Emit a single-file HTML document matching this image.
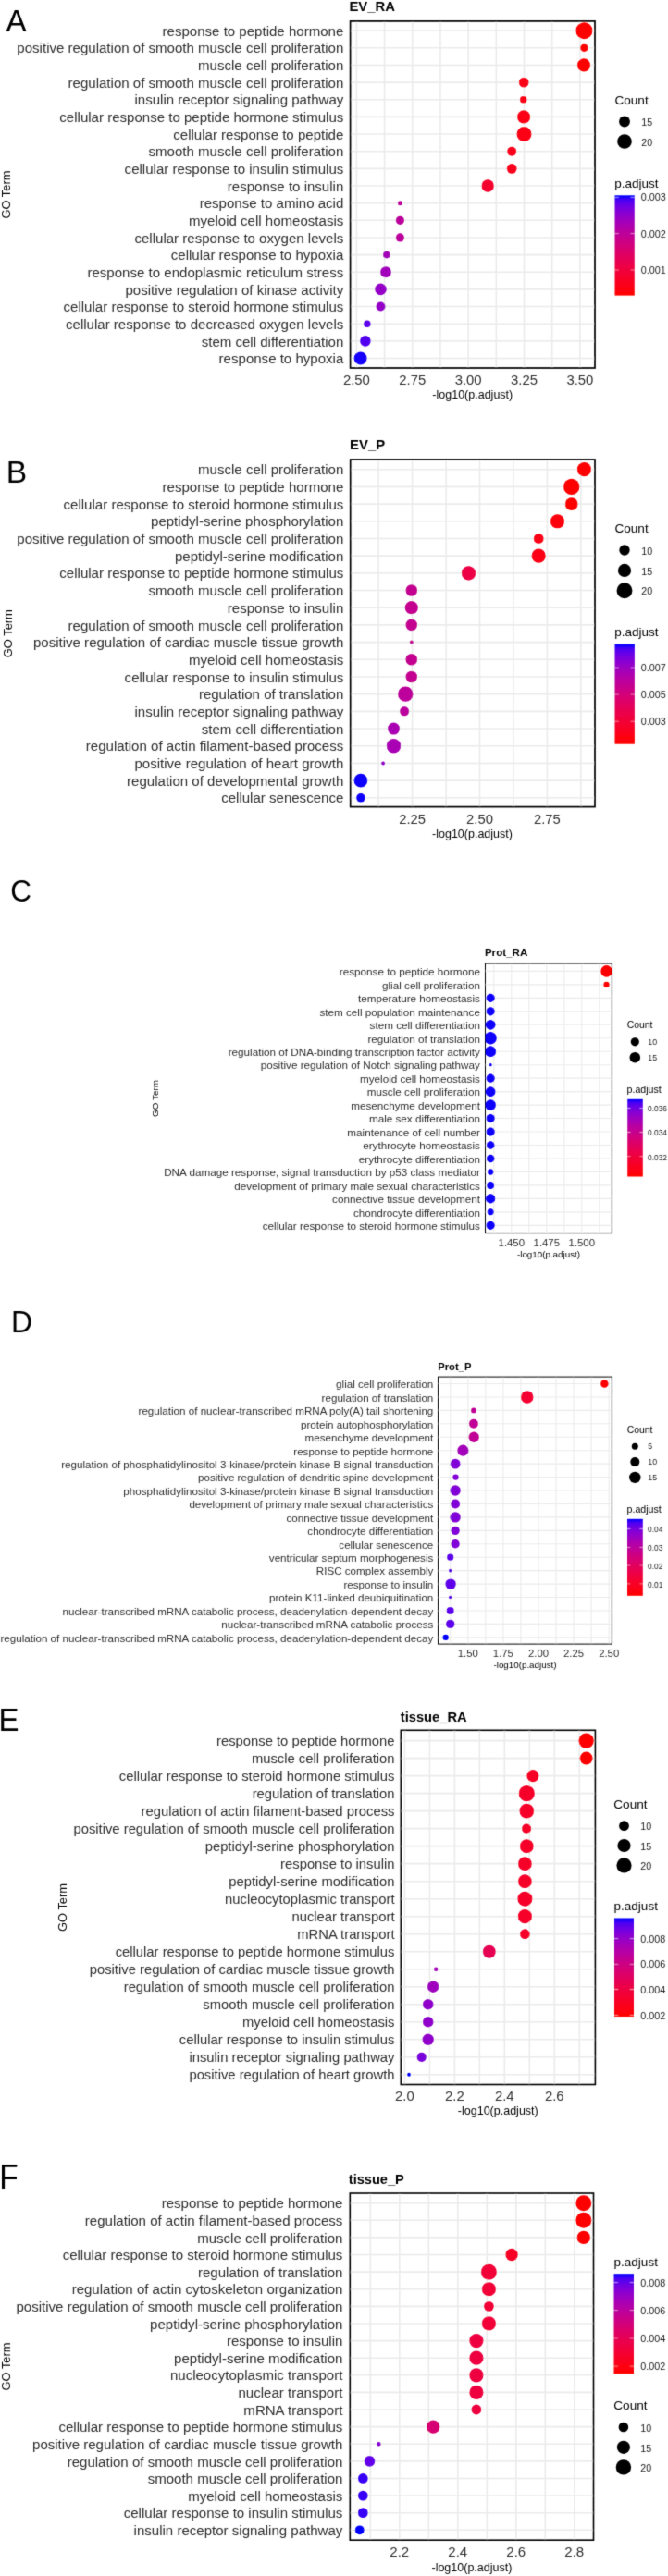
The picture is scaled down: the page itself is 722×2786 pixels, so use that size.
<!DOCTYPE html>
<html><head><meta charset="utf-8"><style>
html,body{margin:0;padding:0;background:#fff;}
svg{display:block;font-family:"Liberation Sans",sans-serif;}
#w{}
</style></head><body>
<div id="w"><svg width="722" height="2786" viewBox="0 0 722 2786">
<defs><filter id="bl" x="0" y="0" width="722" height="2786" filterUnits="userSpaceOnUse"><feConvolveMatrix order="3" kernelMatrix="0.01134 0.08382 0.01134 0.08382 0.61935 0.08382 0.01134 0.08382 0.01134" divisor="1" edgeMode="none"/></filter></defs>
<rect width="722" height="2786" fill="#fff"/>
<g filter="url(#bl)">
<text x="6.60" y="34.40" font-size="33.2" fill="#000">A</text>
<text x="377.40" y="12.00" font-size="14.85" font-weight="bold" fill="#000">EV_RA</text>
<line x1="385.40" y1="22.90" x2="385.40" y2="398.00" stroke="#ebebeb" stroke-width="1.6"/>
<line x1="415.59" y1="22.90" x2="415.59" y2="398.00" stroke="#ebebeb" stroke-width="1.6"/>
<line x1="445.77" y1="22.90" x2="445.77" y2="398.00" stroke="#ebebeb" stroke-width="1.6"/>
<line x1="475.96" y1="22.90" x2="475.96" y2="398.00" stroke="#ebebeb" stroke-width="1.6"/>
<line x1="506.15" y1="22.90" x2="506.15" y2="398.00" stroke="#ebebeb" stroke-width="1.6"/>
<line x1="536.34" y1="22.90" x2="536.34" y2="398.00" stroke="#ebebeb" stroke-width="1.6"/>
<line x1="566.52" y1="22.90" x2="566.52" y2="398.00" stroke="#ebebeb" stroke-width="1.6"/>
<line x1="596.71" y1="22.90" x2="596.71" y2="398.00" stroke="#ebebeb" stroke-width="1.6"/>
<line x1="626.90" y1="22.90" x2="626.90" y2="398.00" stroke="#ebebeb" stroke-width="1.6"/>
<line x1="378.60" y1="33.15" x2="643.00" y2="33.15" stroke="#ebebeb" stroke-width="1.6"/>
<line x1="378.60" y1="51.80" x2="643.00" y2="51.80" stroke="#ebebeb" stroke-width="1.6"/>
<line x1="378.60" y1="70.45" x2="643.00" y2="70.45" stroke="#ebebeb" stroke-width="1.6"/>
<line x1="378.60" y1="89.10" x2="643.00" y2="89.10" stroke="#ebebeb" stroke-width="1.6"/>
<line x1="378.60" y1="107.75" x2="643.00" y2="107.75" stroke="#ebebeb" stroke-width="1.6"/>
<line x1="378.60" y1="126.40" x2="643.00" y2="126.40" stroke="#ebebeb" stroke-width="1.6"/>
<line x1="378.60" y1="145.05" x2="643.00" y2="145.05" stroke="#ebebeb" stroke-width="1.6"/>
<line x1="378.60" y1="163.70" x2="643.00" y2="163.70" stroke="#ebebeb" stroke-width="1.6"/>
<line x1="378.60" y1="182.35" x2="643.00" y2="182.35" stroke="#ebebeb" stroke-width="1.6"/>
<line x1="378.60" y1="201.00" x2="643.00" y2="201.00" stroke="#ebebeb" stroke-width="1.6"/>
<line x1="378.60" y1="219.65" x2="643.00" y2="219.65" stroke="#ebebeb" stroke-width="1.6"/>
<line x1="378.60" y1="238.30" x2="643.00" y2="238.30" stroke="#ebebeb" stroke-width="1.6"/>
<line x1="378.60" y1="256.95" x2="643.00" y2="256.95" stroke="#ebebeb" stroke-width="1.6"/>
<line x1="378.60" y1="275.60" x2="643.00" y2="275.60" stroke="#ebebeb" stroke-width="1.6"/>
<line x1="378.60" y1="294.25" x2="643.00" y2="294.25" stroke="#ebebeb" stroke-width="1.6"/>
<line x1="378.60" y1="312.90" x2="643.00" y2="312.90" stroke="#ebebeb" stroke-width="1.6"/>
<line x1="378.60" y1="331.55" x2="643.00" y2="331.55" stroke="#ebebeb" stroke-width="1.6"/>
<line x1="378.60" y1="350.20" x2="643.00" y2="350.20" stroke="#ebebeb" stroke-width="1.6"/>
<line x1="378.60" y1="368.85" x2="643.00" y2="368.85" stroke="#ebebeb" stroke-width="1.6"/>
<line x1="378.60" y1="387.50" x2="643.00" y2="387.50" stroke="#ebebeb" stroke-width="1.6"/>
<clipPath id="c139891741804864"><rect x="378.60" y="22.90" width="264.40" height="375.10"/></clipPath>
<g clip-path="url(#c139891741804864)">
<circle cx="631.40" cy="33.15" r="9" fill="#ff0000"/>
<circle cx="631.30" cy="51.80" r="4.1" fill="#ff0000"/>
<circle cx="631.00" cy="70.45" r="7.1" fill="#ff0000"/>
<circle cx="566.20" cy="89.10" r="5.4" fill="#fc0017"/>
<circle cx="565.70" cy="107.75" r="3.8" fill="#fb0017"/>
<circle cx="566.10" cy="126.40" r="7.1" fill="#fc0017"/>
<circle cx="566.50" cy="145.05" r="8" fill="#fc0017"/>
<circle cx="553.20" cy="163.70" r="5" fill="#fa001d"/>
<circle cx="553.20" cy="182.35" r="5.4" fill="#fa001d"/>
<circle cx="527.20" cy="201.00" r="6.7" fill="#f5002d"/>
<circle cx="432.40" cy="219.65" r="2.5" fill="#bc009c"/>
<circle cx="432.40" cy="238.30" r="4.6" fill="#bc009c"/>
<circle cx="432.40" cy="256.95" r="4.6" fill="#bc009c"/>
<circle cx="417.80" cy="275.60" r="3.8" fill="#a300ba"/>
<circle cx="417.00" cy="294.25" r="5.9" fill="#a200bb"/>
<circle cx="411.50" cy="312.90" r="6.3" fill="#9500c8"/>
<circle cx="411.50" cy="331.55" r="5" fill="#9500c8"/>
<circle cx="396.80" cy="350.20" r="3.8" fill="#5e00eb"/>
<circle cx="394.90" cy="368.85" r="5.8" fill="#5200f0"/>
<circle cx="389.60" cy="387.50" r="7" fill="#1200fe"/>
</g>
<rect x="378.60" y="22.90" width="264.40" height="375.10" fill="none" stroke="#000" stroke-width="1.7"/>
<text x="371.30" y="38.80" font-size="15.05" text-anchor="end" fill="#2e2e2e">response to peptide hormone</text>
<text x="371.30" y="57.45" font-size="15.05" text-anchor="end" fill="#2e2e2e">positive regulation of smooth muscle cell proliferation</text>
<text x="371.30" y="76.10" font-size="15.05" text-anchor="end" fill="#2e2e2e">muscle cell proliferation</text>
<text x="371.30" y="94.75" font-size="15.05" text-anchor="end" fill="#2e2e2e">regulation of smooth muscle cell proliferation</text>
<text x="371.30" y="113.40" font-size="15.05" text-anchor="end" fill="#2e2e2e">insulin receptor signaling pathway</text>
<text x="371.30" y="132.05" font-size="15.05" text-anchor="end" fill="#2e2e2e">cellular response to peptide hormone stimulus</text>
<text x="371.30" y="150.70" font-size="15.05" text-anchor="end" fill="#2e2e2e">cellular response to peptide</text>
<text x="371.30" y="169.35" font-size="15.05" text-anchor="end" fill="#2e2e2e">smooth muscle cell proliferation</text>
<text x="371.30" y="188.00" font-size="15.05" text-anchor="end" fill="#2e2e2e">cellular response to insulin stimulus</text>
<text x="371.30" y="206.65" font-size="15.05" text-anchor="end" fill="#2e2e2e">response to insulin</text>
<text x="371.30" y="225.30" font-size="15.05" text-anchor="end" fill="#2e2e2e">response to amino acid</text>
<text x="371.30" y="243.95" font-size="15.05" text-anchor="end" fill="#2e2e2e">myeloid cell homeostasis</text>
<text x="371.30" y="262.60" font-size="15.05" text-anchor="end" fill="#2e2e2e">cellular response to oxygen levels</text>
<text x="371.30" y="281.25" font-size="15.05" text-anchor="end" fill="#2e2e2e">cellular response to hypoxia</text>
<text x="371.30" y="299.90" font-size="15.05" text-anchor="end" fill="#2e2e2e">response to endoplasmic reticulum stress</text>
<text x="371.30" y="318.55" font-size="15.05" text-anchor="end" fill="#2e2e2e">positive regulation of kinase activity</text>
<text x="371.30" y="337.20" font-size="15.05" text-anchor="end" fill="#2e2e2e">cellular response to steroid hormone stimulus</text>
<text x="371.30" y="355.85" font-size="15.05" text-anchor="end" fill="#2e2e2e">cellular response to decreased oxygen levels</text>
<text x="371.30" y="374.50" font-size="15.05" text-anchor="end" fill="#2e2e2e">stem cell differentiation</text>
<text x="371.30" y="393.15" font-size="15.05" text-anchor="end" fill="#2e2e2e">response to hypoxia</text>
<text x="385.40" y="416.10" font-size="14.9" text-anchor="middle" fill="#2e2e2e">2.50</text>
<text x="445.77" y="416.10" font-size="14.9" text-anchor="middle" fill="#2e2e2e">2.75</text>
<text x="506.15" y="416.10" font-size="14.9" text-anchor="middle" fill="#2e2e2e">3.00</text>
<text x="566.52" y="416.10" font-size="14.9" text-anchor="middle" fill="#2e2e2e">3.25</text>
<text x="626.90" y="416.10" font-size="14.9" text-anchor="middle" fill="#2e2e2e">3.50</text>
<text x="510.80" y="431.00" font-size="12.5" text-anchor="middle" fill="#000">-log10(p.adjust)</text>
<text x="0" y="0" font-size="12.9" text-anchor="middle" transform="translate(11.10,210.60) rotate(-90)">GO Term</text>
<text x="664.40" y="112.60" font-size="13.6" fill="#000">Count</text>
<circle cx="675.00" cy="131.50" r="5.9" fill="#000"/>
<text x="693.20" y="136.20" font-size="10.7" fill="#1a1a1a">15</text>
<circle cx="675.00" cy="153.00" r="7.8" fill="#000"/>
<text x="693.20" y="157.70" font-size="10.7" fill="#1a1a1a">20</text>
<text x="664.30" y="202.60" font-size="13.5" fill="#000">p.adjust</text>
<linearGradient id="g1" x1="0" y1="0" x2="0" y2="1"><stop offset="0.00" stop-color="#0000ff"/><stop offset="0.05" stop-color="#4c00f2"/><stop offset="0.10" stop-color="#6a00e6"/><stop offset="0.15" stop-color="#7f00d8"/><stop offset="0.20" stop-color="#9100cb"/><stop offset="0.25" stop-color="#9f00be"/><stop offset="0.30" stop-color="#ac00b0"/><stop offset="0.35" stop-color="#b700a2"/><stop offset="0.40" stop-color="#c10095"/><stop offset="0.45" stop-color="#ca0087"/><stop offset="0.50" stop-color="#d2007a"/><stop offset="0.55" stop-color="#da006d"/><stop offset="0.60" stop-color="#e00060"/><stop offset="0.65" stop-color="#e60053"/><stop offset="0.70" stop-color="#ec0047"/><stop offset="0.75" stop-color="#f0003b"/><stop offset="0.80" stop-color="#f50030"/><stop offset="0.85" stop-color="#f80024"/><stop offset="0.90" stop-color="#fb0018"/><stop offset="0.95" stop-color="#fe000a"/><stop offset="1.00" stop-color="#ff0000"/></linearGradient>
<rect x="664.50" y="211.30" width="21.30" height="108.30" fill="url(#g1)"/>
<line x1="664.50" y1="213.40" x2="668.76" y2="213.40" stroke="#fff" stroke-opacity="0.6" stroke-width="0.8"/>
<line x1="681.54" y1="213.40" x2="685.80" y2="213.40" stroke="#fff" stroke-opacity="0.6" stroke-width="0.8"/>
<text x="692.80" y="217.23" font-size="10.8" fill="#222">0.003</text>
<line x1="664.50" y1="252.70" x2="668.76" y2="252.70" stroke="#fff" stroke-opacity="0.6" stroke-width="0.8"/>
<line x1="681.54" y1="252.70" x2="685.80" y2="252.70" stroke="#fff" stroke-opacity="0.6" stroke-width="0.8"/>
<text x="692.80" y="256.53" font-size="10.8" fill="#222">0.002</text>
<line x1="664.50" y1="292.00" x2="668.76" y2="292.00" stroke="#fff" stroke-opacity="0.6" stroke-width="0.8"/>
<line x1="681.54" y1="292.00" x2="685.80" y2="292.00" stroke="#fff" stroke-opacity="0.6" stroke-width="0.8"/>
<text x="692.80" y="295.83" font-size="10.8" fill="#222">0.001</text>
<text x="6.70" y="522.20" font-size="33.6" fill="#000">B</text>
<text x="378.10" y="485.90" font-size="14.9" font-weight="bold" fill="#000">EV_P</text>
<line x1="409.15" y1="497.00" x2="409.15" y2="872.60" stroke="#ebebeb" stroke-width="1.6"/>
<line x1="445.60" y1="497.00" x2="445.60" y2="872.60" stroke="#ebebeb" stroke-width="1.6"/>
<line x1="482.05" y1="497.00" x2="482.05" y2="872.60" stroke="#ebebeb" stroke-width="1.6"/>
<line x1="518.50" y1="497.00" x2="518.50" y2="872.60" stroke="#ebebeb" stroke-width="1.6"/>
<line x1="554.95" y1="497.00" x2="554.95" y2="872.60" stroke="#ebebeb" stroke-width="1.6"/>
<line x1="591.40" y1="497.00" x2="591.40" y2="872.60" stroke="#ebebeb" stroke-width="1.6"/>
<line x1="627.85" y1="497.00" x2="627.85" y2="872.60" stroke="#ebebeb" stroke-width="1.6"/>
<line x1="378.70" y1="507.70" x2="643.00" y2="507.70" stroke="#ebebeb" stroke-width="1.6"/>
<line x1="378.70" y1="526.39" x2="643.00" y2="526.39" stroke="#ebebeb" stroke-width="1.6"/>
<line x1="378.70" y1="545.08" x2="643.00" y2="545.08" stroke="#ebebeb" stroke-width="1.6"/>
<line x1="378.70" y1="563.77" x2="643.00" y2="563.77" stroke="#ebebeb" stroke-width="1.6"/>
<line x1="378.70" y1="582.46" x2="643.00" y2="582.46" stroke="#ebebeb" stroke-width="1.6"/>
<line x1="378.70" y1="601.15" x2="643.00" y2="601.15" stroke="#ebebeb" stroke-width="1.6"/>
<line x1="378.70" y1="619.84" x2="643.00" y2="619.84" stroke="#ebebeb" stroke-width="1.6"/>
<line x1="378.70" y1="638.53" x2="643.00" y2="638.53" stroke="#ebebeb" stroke-width="1.6"/>
<line x1="378.70" y1="657.22" x2="643.00" y2="657.22" stroke="#ebebeb" stroke-width="1.6"/>
<line x1="378.70" y1="675.91" x2="643.00" y2="675.91" stroke="#ebebeb" stroke-width="1.6"/>
<line x1="378.70" y1="694.60" x2="643.00" y2="694.60" stroke="#ebebeb" stroke-width="1.6"/>
<line x1="378.70" y1="713.29" x2="643.00" y2="713.29" stroke="#ebebeb" stroke-width="1.6"/>
<line x1="378.70" y1="731.98" x2="643.00" y2="731.98" stroke="#ebebeb" stroke-width="1.6"/>
<line x1="378.70" y1="750.67" x2="643.00" y2="750.67" stroke="#ebebeb" stroke-width="1.6"/>
<line x1="378.70" y1="769.36" x2="643.00" y2="769.36" stroke="#ebebeb" stroke-width="1.6"/>
<line x1="378.70" y1="788.05" x2="643.00" y2="788.05" stroke="#ebebeb" stroke-width="1.6"/>
<line x1="378.70" y1="806.74" x2="643.00" y2="806.74" stroke="#ebebeb" stroke-width="1.6"/>
<line x1="378.70" y1="825.43" x2="643.00" y2="825.43" stroke="#ebebeb" stroke-width="1.6"/>
<line x1="378.70" y1="844.12" x2="643.00" y2="844.12" stroke="#ebebeb" stroke-width="1.6"/>
<line x1="378.70" y1="862.81" x2="643.00" y2="862.81" stroke="#ebebeb" stroke-width="1.6"/>
<clipPath id="c139891741804608"><rect x="378.70" y="497.00" width="264.30" height="375.60"/></clipPath>
<g clip-path="url(#c139891741804608)">
<circle cx="631.40" cy="507.70" r="7.6" fill="#ff0000"/>
<circle cx="617.70" cy="526.39" r="8.7" fill="#ff0002"/>
<circle cx="617.70" cy="545.08" r="6.9" fill="#ff0002"/>
<circle cx="602.50" cy="563.77" r="7.6" fill="#fe0008"/>
<circle cx="582.20" cy="582.46" r="5.4" fill="#fc0013"/>
<circle cx="582.20" cy="601.15" r="7.6" fill="#fc0013"/>
<circle cx="506.50" cy="619.84" r="7.7" fill="#ed0045"/>
<circle cx="444.80" cy="638.53" r="6.3" fill="#c40090"/>
<circle cx="444.80" cy="657.22" r="7.1" fill="#c40090"/>
<circle cx="444.80" cy="675.91" r="6.3" fill="#c40090"/>
<circle cx="444.80" cy="694.60" r="2" fill="#c40090"/>
<circle cx="444.80" cy="713.29" r="6.3" fill="#c40090"/>
<circle cx="444.80" cy="731.98" r="6.3" fill="#c40090"/>
<circle cx="438.30" cy="750.67" r="8.2" fill="#bd009b"/>
<circle cx="437.10" cy="769.36" r="5" fill="#bb009d"/>
<circle cx="425.50" cy="788.05" r="6.5" fill="#aa00b3"/>
<circle cx="425.50" cy="806.74" r="7.7" fill="#aa00b3"/>
<circle cx="414.10" cy="825.43" r="2" fill="#9300c9"/>
<circle cx="389.90" cy="844.12" r="7.4" fill="#0a00fe"/>
<circle cx="389.90" cy="862.81" r="4.8" fill="#0a00fe"/>
</g>
<rect x="378.70" y="497.00" width="264.30" height="375.60" fill="none" stroke="#000" stroke-width="1.7"/>
<text x="371.30" y="513.35" font-size="15.05" text-anchor="end" fill="#2e2e2e">muscle cell proliferation</text>
<text x="371.30" y="532.04" font-size="15.05" text-anchor="end" fill="#2e2e2e">response to peptide hormone</text>
<text x="371.30" y="550.73" font-size="15.05" text-anchor="end" fill="#2e2e2e">cellular response to steroid hormone stimulus</text>
<text x="371.30" y="569.42" font-size="15.05" text-anchor="end" fill="#2e2e2e">peptidyl-serine phosphorylation</text>
<text x="371.30" y="588.11" font-size="15.05" text-anchor="end" fill="#2e2e2e">positive regulation of smooth muscle cell proliferation</text>
<text x="371.30" y="606.80" font-size="15.05" text-anchor="end" fill="#2e2e2e">peptidyl-serine modification</text>
<text x="371.30" y="625.49" font-size="15.05" text-anchor="end" fill="#2e2e2e">cellular response to peptide hormone stimulus</text>
<text x="371.30" y="644.18" font-size="15.05" text-anchor="end" fill="#2e2e2e">smooth muscle cell proliferation</text>
<text x="371.30" y="662.87" font-size="15.05" text-anchor="end" fill="#2e2e2e">response to insulin</text>
<text x="371.30" y="681.56" font-size="15.05" text-anchor="end" fill="#2e2e2e">regulation of smooth muscle cell proliferation</text>
<text x="371.30" y="700.25" font-size="15.05" text-anchor="end" fill="#2e2e2e">positive regulation of cardiac muscle tissue growth</text>
<text x="371.30" y="718.94" font-size="15.05" text-anchor="end" fill="#2e2e2e">myeloid cell homeostasis</text>
<text x="371.30" y="737.63" font-size="15.05" text-anchor="end" fill="#2e2e2e">cellular response to insulin stimulus</text>
<text x="371.30" y="756.32" font-size="15.05" text-anchor="end" fill="#2e2e2e">regulation of translation</text>
<text x="371.30" y="775.01" font-size="15.05" text-anchor="end" fill="#2e2e2e">insulin receptor signaling pathway</text>
<text x="371.30" y="793.70" font-size="15.05" text-anchor="end" fill="#2e2e2e">stem cell differentiation</text>
<text x="371.30" y="812.39" font-size="15.05" text-anchor="end" fill="#2e2e2e">regulation of actin filament-based process</text>
<text x="371.30" y="831.08" font-size="15.05" text-anchor="end" fill="#2e2e2e">positive regulation of heart growth</text>
<text x="371.30" y="849.77" font-size="15.05" text-anchor="end" fill="#2e2e2e">regulation of developmental growth</text>
<text x="371.30" y="868.46" font-size="15.05" text-anchor="end" fill="#2e2e2e">cellular senescence</text>
<text x="445.60" y="891.00" font-size="14.8" text-anchor="middle" fill="#2e2e2e">2.25</text>
<text x="518.50" y="891.00" font-size="14.8" text-anchor="middle" fill="#2e2e2e">2.50</text>
<text x="591.40" y="891.00" font-size="14.8" text-anchor="middle" fill="#2e2e2e">2.75</text>
<text x="510.50" y="906.00" font-size="12.5" text-anchor="middle" fill="#000">-log10(p.adjust)</text>
<text x="0" y="0" font-size="12.9" text-anchor="middle" transform="translate(12.60,685.20) rotate(-90)">GO Term</text>
<text x="664.40" y="576.40" font-size="13.6" fill="#000">Count</text>
<circle cx="675.00" cy="595.00" r="5.66" fill="#000"/>
<text x="693.20" y="599.70" font-size="10.7" fill="#1a1a1a">10</text>
<circle cx="675.00" cy="616.90" r="7.06" fill="#000"/>
<text x="693.20" y="621.60" font-size="10.7" fill="#1a1a1a">15</text>
<circle cx="675.00" cy="638.70" r="8.46" fill="#000"/>
<text x="693.20" y="643.40" font-size="10.7" fill="#1a1a1a">20</text>
<text x="664.30" y="688.20" font-size="13.5" fill="#000">p.adjust</text>
<linearGradient id="g2" x1="0" y1="0" x2="0" y2="1"><stop offset="0.00" stop-color="#0000ff"/><stop offset="0.05" stop-color="#4c00f2"/><stop offset="0.10" stop-color="#6a00e6"/><stop offset="0.15" stop-color="#7f00d8"/><stop offset="0.20" stop-color="#9100cb"/><stop offset="0.25" stop-color="#9f00be"/><stop offset="0.30" stop-color="#ac00b0"/><stop offset="0.35" stop-color="#b700a2"/><stop offset="0.40" stop-color="#c10095"/><stop offset="0.45" stop-color="#ca0087"/><stop offset="0.50" stop-color="#d2007a"/><stop offset="0.55" stop-color="#da006d"/><stop offset="0.60" stop-color="#e00060"/><stop offset="0.65" stop-color="#e60053"/><stop offset="0.70" stop-color="#ec0047"/><stop offset="0.75" stop-color="#f0003b"/><stop offset="0.80" stop-color="#f50030"/><stop offset="0.85" stop-color="#f80024"/><stop offset="0.90" stop-color="#fb0018"/><stop offset="0.95" stop-color="#fe000a"/><stop offset="1.00" stop-color="#ff0000"/></linearGradient>
<rect x="664.50" y="696.60" width="21.40" height="108.10" fill="url(#g2)"/>
<line x1="664.50" y1="722.00" x2="668.78" y2="722.00" stroke="#fff" stroke-opacity="0.6" stroke-width="0.8"/>
<line x1="681.62" y1="722.00" x2="685.90" y2="722.00" stroke="#fff" stroke-opacity="0.6" stroke-width="0.8"/>
<text x="692.80" y="725.83" font-size="10.8" fill="#222">0.007</text>
<line x1="664.50" y1="751.00" x2="668.78" y2="751.00" stroke="#fff" stroke-opacity="0.6" stroke-width="0.8"/>
<line x1="681.62" y1="751.00" x2="685.90" y2="751.00" stroke="#fff" stroke-opacity="0.6" stroke-width="0.8"/>
<text x="692.80" y="754.83" font-size="10.8" fill="#222">0.005</text>
<line x1="664.50" y1="780.20" x2="668.78" y2="780.20" stroke="#fff" stroke-opacity="0.6" stroke-width="0.8"/>
<line x1="681.62" y1="780.20" x2="685.90" y2="780.20" stroke="#fff" stroke-opacity="0.6" stroke-width="0.8"/>
<text x="692.80" y="784.03" font-size="10.8" fill="#222">0.003</text>
<text x="0" y="0" font-size="33.2" fill="#000" transform="translate(11.20,974.60) scale(0.95,1.015)">C</text>
<text x="523.90" y="1034.30" font-size="11.6" font-weight="bold" fill="#000">Prot_RA</text>
<line x1="533.80" y1="1042.00" x2="533.80" y2="1333.60" stroke="#ebebeb" stroke-width="1.1"/>
<line x1="552.80" y1="1042.00" x2="552.80" y2="1333.60" stroke="#ebebeb" stroke-width="1.1"/>
<line x1="571.80" y1="1042.00" x2="571.80" y2="1333.60" stroke="#ebebeb" stroke-width="1.1"/>
<line x1="590.80" y1="1042.00" x2="590.80" y2="1333.60" stroke="#ebebeb" stroke-width="1.1"/>
<line x1="609.80" y1="1042.00" x2="609.80" y2="1333.60" stroke="#ebebeb" stroke-width="1.1"/>
<line x1="628.80" y1="1042.00" x2="628.80" y2="1333.60" stroke="#ebebeb" stroke-width="1.1"/>
<line x1="647.80" y1="1042.00" x2="647.80" y2="1333.60" stroke="#ebebeb" stroke-width="1.1"/>
<line x1="524.50" y1="1050.40" x2="661.40" y2="1050.40" stroke="#ebebeb" stroke-width="1.1"/>
<line x1="524.50" y1="1064.87" x2="661.40" y2="1064.87" stroke="#ebebeb" stroke-width="1.1"/>
<line x1="524.50" y1="1079.34" x2="661.40" y2="1079.34" stroke="#ebebeb" stroke-width="1.1"/>
<line x1="524.50" y1="1093.81" x2="661.40" y2="1093.81" stroke="#ebebeb" stroke-width="1.1"/>
<line x1="524.50" y1="1108.28" x2="661.40" y2="1108.28" stroke="#ebebeb" stroke-width="1.1"/>
<line x1="524.50" y1="1122.75" x2="661.40" y2="1122.75" stroke="#ebebeb" stroke-width="1.1"/>
<line x1="524.50" y1="1137.22" x2="661.40" y2="1137.22" stroke="#ebebeb" stroke-width="1.1"/>
<line x1="524.50" y1="1151.69" x2="661.40" y2="1151.69" stroke="#ebebeb" stroke-width="1.1"/>
<line x1="524.50" y1="1166.16" x2="661.40" y2="1166.16" stroke="#ebebeb" stroke-width="1.1"/>
<line x1="524.50" y1="1180.63" x2="661.40" y2="1180.63" stroke="#ebebeb" stroke-width="1.1"/>
<line x1="524.50" y1="1195.10" x2="661.40" y2="1195.10" stroke="#ebebeb" stroke-width="1.1"/>
<line x1="524.50" y1="1209.57" x2="661.40" y2="1209.57" stroke="#ebebeb" stroke-width="1.1"/>
<line x1="524.50" y1="1224.04" x2="661.40" y2="1224.04" stroke="#ebebeb" stroke-width="1.1"/>
<line x1="524.50" y1="1238.51" x2="661.40" y2="1238.51" stroke="#ebebeb" stroke-width="1.1"/>
<line x1="524.50" y1="1252.98" x2="661.40" y2="1252.98" stroke="#ebebeb" stroke-width="1.1"/>
<line x1="524.50" y1="1267.45" x2="661.40" y2="1267.45" stroke="#ebebeb" stroke-width="1.1"/>
<line x1="524.50" y1="1281.92" x2="661.40" y2="1281.92" stroke="#ebebeb" stroke-width="1.1"/>
<line x1="524.50" y1="1296.39" x2="661.40" y2="1296.39" stroke="#ebebeb" stroke-width="1.1"/>
<line x1="524.50" y1="1310.86" x2="661.40" y2="1310.86" stroke="#ebebeb" stroke-width="1.1"/>
<line x1="524.50" y1="1325.33" x2="661.40" y2="1325.33" stroke="#ebebeb" stroke-width="1.1"/>
<clipPath id="c139891741804352"><rect x="524.50" y="1042.00" width="136.90" height="291.60"/></clipPath>
<g clip-path="url(#c139891741804352)">
<circle cx="655.50" cy="1050.40" r="6.3" fill="#ff0000"/>
<circle cx="655.50" cy="1064.87" r="3.2" fill="#ff0000"/>
<circle cx="530.20" cy="1079.34" r="4.6" fill="#1000fe"/>
<circle cx="530.20" cy="1093.81" r="4.6" fill="#1000fe"/>
<circle cx="530.20" cy="1108.28" r="5.4" fill="#1000fe"/>
<circle cx="530.20" cy="1122.75" r="6.7" fill="#1000fe"/>
<circle cx="530.20" cy="1137.22" r="5.9" fill="#1000fe"/>
<circle cx="530.20" cy="1151.69" r="1.6" fill="#1000fe"/>
<circle cx="530.20" cy="1166.16" r="4.6" fill="#1000fe"/>
<circle cx="530.20" cy="1180.63" r="5.3" fill="#1000fe"/>
<circle cx="530.20" cy="1195.10" r="5.8" fill="#1000fe"/>
<circle cx="530.20" cy="1209.57" r="4.6" fill="#1000fe"/>
<circle cx="530.20" cy="1224.04" r="4.6" fill="#1000fe"/>
<circle cx="530.20" cy="1238.51" r="4.3" fill="#1000fe"/>
<circle cx="530.20" cy="1252.98" r="4.3" fill="#1000fe"/>
<circle cx="530.20" cy="1267.45" r="3.2" fill="#1000fe"/>
<circle cx="530.20" cy="1281.92" r="4.0" fill="#1000fe"/>
<circle cx="530.20" cy="1296.39" r="5.1" fill="#1000fe"/>
<circle cx="530.20" cy="1310.86" r="3.5" fill="#1000fe"/>
<circle cx="530.20" cy="1325.33" r="4.6" fill="#1000fe"/>
</g>
<rect x="524.50" y="1042.00" width="136.90" height="291.60" fill="none" stroke="#000" stroke-width="1.0"/>
<text x="518.90" y="1055.20" font-size="11.7" text-anchor="end" fill="#2e2e2e">response to peptide hormone</text>
<text x="518.90" y="1069.67" font-size="11.7" text-anchor="end" fill="#2e2e2e">glial cell proliferation</text>
<text x="518.90" y="1084.14" font-size="11.7" text-anchor="end" fill="#2e2e2e">temperature homeostasis</text>
<text x="518.90" y="1098.61" font-size="11.7" text-anchor="end" fill="#2e2e2e">stem cell population maintenance</text>
<text x="518.90" y="1113.08" font-size="11.7" text-anchor="end" fill="#2e2e2e">stem cell differentiation</text>
<text x="518.90" y="1127.55" font-size="11.7" text-anchor="end" fill="#2e2e2e">regulation of translation</text>
<text x="518.90" y="1142.02" font-size="11.7" text-anchor="end" fill="#2e2e2e">regulation of DNA-binding transcription factor activity</text>
<text x="518.90" y="1156.49" font-size="11.7" text-anchor="end" fill="#2e2e2e">positive regulation of Notch signaling pathway</text>
<text x="518.90" y="1170.96" font-size="11.7" text-anchor="end" fill="#2e2e2e">myeloid cell homeostasis</text>
<text x="518.90" y="1185.43" font-size="11.7" text-anchor="end" fill="#2e2e2e">muscle cell proliferation</text>
<text x="518.90" y="1199.90" font-size="11.7" text-anchor="end" fill="#2e2e2e">mesenchyme development</text>
<text x="518.90" y="1214.37" font-size="11.7" text-anchor="end" fill="#2e2e2e">male sex differentiation</text>
<text x="518.90" y="1228.84" font-size="11.7" text-anchor="end" fill="#2e2e2e">maintenance of cell number</text>
<text x="518.90" y="1243.31" font-size="11.7" text-anchor="end" fill="#2e2e2e">erythrocyte homeostasis</text>
<text x="518.90" y="1257.78" font-size="11.7" text-anchor="end" fill="#2e2e2e">erythrocyte differentiation</text>
<text x="518.90" y="1272.25" font-size="11.7" text-anchor="end" fill="#2e2e2e">DNA damage response, signal transduction by p53 class mediator</text>
<text x="518.90" y="1286.72" font-size="11.7" text-anchor="end" fill="#2e2e2e">development of primary male sexual characteristics</text>
<text x="518.90" y="1301.19" font-size="11.7" text-anchor="end" fill="#2e2e2e">connective tissue development</text>
<text x="518.90" y="1315.66" font-size="11.7" text-anchor="end" fill="#2e2e2e">chondrocyte differentiation</text>
<text x="518.90" y="1330.13" font-size="11.7" text-anchor="end" fill="#2e2e2e">cellular response to steroid hormone stimulus</text>
<text x="552.80" y="1348.00" font-size="11.35" text-anchor="middle" fill="#2e2e2e">1.450</text>
<text x="590.80" y="1348.00" font-size="11.35" text-anchor="middle" fill="#2e2e2e">1.475</text>
<text x="628.80" y="1348.00" font-size="11.35" text-anchor="middle" fill="#2e2e2e">1.500</text>
<text x="593.00" y="1359.60" font-size="9.8" text-anchor="middle" fill="#000">-log10(p.adjust)</text>
<text x="0" y="0" font-size="9.9" text-anchor="middle" transform="translate(171.30,1188.00) rotate(-90)">GO Term</text>
<text x="677.70" y="1112.00" font-size="10.4" fill="#000">Count</text>
<circle cx="686.30" cy="1126.80" r="4.6" fill="#000"/>
<text x="700.30" y="1129.92" font-size="8.8" fill="#1a1a1a">10</text>
<circle cx="686.30" cy="1143.70" r="5.8" fill="#000"/>
<text x="700.30" y="1146.82" font-size="8.8" fill="#1a1a1a">15</text>
<text x="677.50" y="1182.00" font-size="10.66" fill="#000">p.adjust</text>
<linearGradient id="g3" x1="0" y1="0" x2="0" y2="1"><stop offset="0.00" stop-color="#0000ff"/><stop offset="0.05" stop-color="#4c00f2"/><stop offset="0.10" stop-color="#6a00e6"/><stop offset="0.15" stop-color="#7f00d8"/><stop offset="0.20" stop-color="#9100cb"/><stop offset="0.25" stop-color="#9f00be"/><stop offset="0.30" stop-color="#ac00b0"/><stop offset="0.35" stop-color="#b700a2"/><stop offset="0.40" stop-color="#c10095"/><stop offset="0.45" stop-color="#ca0087"/><stop offset="0.50" stop-color="#d2007a"/><stop offset="0.55" stop-color="#da006d"/><stop offset="0.60" stop-color="#e00060"/><stop offset="0.65" stop-color="#e60053"/><stop offset="0.70" stop-color="#ec0047"/><stop offset="0.75" stop-color="#f0003b"/><stop offset="0.80" stop-color="#f50030"/><stop offset="0.85" stop-color="#f80024"/><stop offset="0.90" stop-color="#fb0018"/><stop offset="0.95" stop-color="#fe000a"/><stop offset="1.00" stop-color="#ff0000"/></linearGradient>
<rect x="678.20" y="1188.80" width="16.60" height="83.70" fill="url(#g3)"/>
<line x1="678.20" y1="1198.50" x2="681.52" y2="1198.50" stroke="#fff" stroke-opacity="0.6" stroke-width="0.8"/>
<line x1="691.48" y1="1198.50" x2="694.80" y2="1198.50" stroke="#fff" stroke-opacity="0.6" stroke-width="0.8"/>
<text x="700.00" y="1202.38" font-size="8.4" fill="#222">0.036</text>
<line x1="678.20" y1="1224.50" x2="681.52" y2="1224.50" stroke="#fff" stroke-opacity="0.6" stroke-width="0.8"/>
<line x1="691.48" y1="1224.50" x2="694.80" y2="1224.50" stroke="#fff" stroke-opacity="0.6" stroke-width="0.8"/>
<text x="700.00" y="1228.38" font-size="8.4" fill="#222">0.034</text>
<line x1="678.20" y1="1250.70" x2="681.52" y2="1250.70" stroke="#fff" stroke-opacity="0.6" stroke-width="0.8"/>
<line x1="691.48" y1="1250.70" x2="694.80" y2="1250.70" stroke="#fff" stroke-opacity="0.6" stroke-width="0.8"/>
<text x="700.00" y="1254.58" font-size="8.4" fill="#222">0.032</text>
<text x="0" y="0" font-size="33.2" fill="#000" transform="translate(11.90,1441.00) scale(0.96,1.0)">D</text>
<text x="473.30" y="1481.50" font-size="11.2" font-weight="bold" fill="#000">Prot_P</text>
<line x1="486.75" y1="1489.10" x2="486.75" y2="1778.10" stroke="#ebebeb" stroke-width="1.1"/>
<line x1="505.80" y1="1489.10" x2="505.80" y2="1778.10" stroke="#ebebeb" stroke-width="1.1"/>
<line x1="524.85" y1="1489.10" x2="524.85" y2="1778.10" stroke="#ebebeb" stroke-width="1.1"/>
<line x1="543.90" y1="1489.10" x2="543.90" y2="1778.10" stroke="#ebebeb" stroke-width="1.1"/>
<line x1="562.95" y1="1489.10" x2="562.95" y2="1778.10" stroke="#ebebeb" stroke-width="1.1"/>
<line x1="582.00" y1="1489.10" x2="582.00" y2="1778.10" stroke="#ebebeb" stroke-width="1.1"/>
<line x1="601.05" y1="1489.10" x2="601.05" y2="1778.10" stroke="#ebebeb" stroke-width="1.1"/>
<line x1="620.10" y1="1489.10" x2="620.10" y2="1778.10" stroke="#ebebeb" stroke-width="1.1"/>
<line x1="639.15" y1="1489.10" x2="639.15" y2="1778.10" stroke="#ebebeb" stroke-width="1.1"/>
<line x1="658.20" y1="1489.10" x2="658.20" y2="1778.10" stroke="#ebebeb" stroke-width="1.1"/>
<line x1="473.50" y1="1496.50" x2="661.40" y2="1496.50" stroke="#ebebeb" stroke-width="1.1"/>
<line x1="473.50" y1="1510.94" x2="661.40" y2="1510.94" stroke="#ebebeb" stroke-width="1.1"/>
<line x1="473.50" y1="1525.38" x2="661.40" y2="1525.38" stroke="#ebebeb" stroke-width="1.1"/>
<line x1="473.50" y1="1539.82" x2="661.40" y2="1539.82" stroke="#ebebeb" stroke-width="1.1"/>
<line x1="473.50" y1="1554.26" x2="661.40" y2="1554.26" stroke="#ebebeb" stroke-width="1.1"/>
<line x1="473.50" y1="1568.70" x2="661.40" y2="1568.70" stroke="#ebebeb" stroke-width="1.1"/>
<line x1="473.50" y1="1583.14" x2="661.40" y2="1583.14" stroke="#ebebeb" stroke-width="1.1"/>
<line x1="473.50" y1="1597.58" x2="661.40" y2="1597.58" stroke="#ebebeb" stroke-width="1.1"/>
<line x1="473.50" y1="1612.02" x2="661.40" y2="1612.02" stroke="#ebebeb" stroke-width="1.1"/>
<line x1="473.50" y1="1626.46" x2="661.40" y2="1626.46" stroke="#ebebeb" stroke-width="1.1"/>
<line x1="473.50" y1="1640.90" x2="661.40" y2="1640.90" stroke="#ebebeb" stroke-width="1.1"/>
<line x1="473.50" y1="1655.34" x2="661.40" y2="1655.34" stroke="#ebebeb" stroke-width="1.1"/>
<line x1="473.50" y1="1669.78" x2="661.40" y2="1669.78" stroke="#ebebeb" stroke-width="1.1"/>
<line x1="473.50" y1="1684.22" x2="661.40" y2="1684.22" stroke="#ebebeb" stroke-width="1.1"/>
<line x1="473.50" y1="1698.66" x2="661.40" y2="1698.66" stroke="#ebebeb" stroke-width="1.1"/>
<line x1="473.50" y1="1713.10" x2="661.40" y2="1713.10" stroke="#ebebeb" stroke-width="1.1"/>
<line x1="473.50" y1="1727.54" x2="661.40" y2="1727.54" stroke="#ebebeb" stroke-width="1.1"/>
<line x1="473.50" y1="1741.98" x2="661.40" y2="1741.98" stroke="#ebebeb" stroke-width="1.1"/>
<line x1="473.50" y1="1756.42" x2="661.40" y2="1756.42" stroke="#ebebeb" stroke-width="1.1"/>
<line x1="473.50" y1="1770.86" x2="661.40" y2="1770.86" stroke="#ebebeb" stroke-width="1.1"/>
<clipPath id="c139891741804096"><rect x="473.50" y="1489.10" width="187.90" height="289.00"/></clipPath>
<g clip-path="url(#c139891741804096)">
<circle cx="653.40" cy="1496.50" r="4.3" fill="#ff0000"/>
<circle cx="569.70" cy="1510.94" r="6.8" fill="#f40030"/>
<circle cx="511.90" cy="1525.38" r="2.9" fill="#c10096"/>
<circle cx="511.90" cy="1539.82" r="5" fill="#c10096"/>
<circle cx="512.20" cy="1554.26" r="5.7" fill="#c10095"/>
<circle cx="500.40" cy="1568.70" r="6.1" fill="#a300ba"/>
<circle cx="492.10" cy="1583.14" r="5.4" fill="#8100d7"/>
<circle cx="492.50" cy="1597.58" r="3.2" fill="#8300d6"/>
<circle cx="492.10" cy="1612.02" r="5.7" fill="#8100d7"/>
<circle cx="492.10" cy="1626.46" r="5" fill="#8100d7"/>
<circle cx="492.10" cy="1640.90" r="5.7" fill="#8100d7"/>
<circle cx="492.10" cy="1655.34" r="4.7" fill="#8100d7"/>
<circle cx="492.10" cy="1669.78" r="4.7" fill="#8100d7"/>
<circle cx="486.70" cy="1684.22" r="3.6" fill="#5d00ec"/>
<circle cx="486.70" cy="1698.66" r="1.8" fill="#5d00ec"/>
<circle cx="487.10" cy="1713.10" r="5.7" fill="#6100ea"/>
<circle cx="486.70" cy="1727.54" r="1.8" fill="#5d00ec"/>
<circle cx="486.70" cy="1741.98" r="4" fill="#5d00ec"/>
<circle cx="486.70" cy="1756.42" r="4.7" fill="#5d00ec"/>
<circle cx="481.70" cy="1770.86" r="3.2" fill="#0000ff"/>
</g>
<rect x="473.50" y="1489.10" width="187.90" height="289.00" fill="none" stroke="#000" stroke-width="1.0"/>
<text x="468.30" y="1501.30" font-size="11.62" text-anchor="end" fill="#2e2e2e">glial cell proliferation</text>
<text x="468.30" y="1515.74" font-size="11.62" text-anchor="end" fill="#2e2e2e">regulation of translation</text>
<text x="468.30" y="1530.18" font-size="11.62" text-anchor="end" fill="#2e2e2e">regulation of nuclear-transcribed mRNA poly(A) tail shortening</text>
<text x="468.30" y="1544.62" font-size="11.62" text-anchor="end" fill="#2e2e2e">protein autophosphorylation</text>
<text x="468.30" y="1559.06" font-size="11.62" text-anchor="end" fill="#2e2e2e">mesenchyme development</text>
<text x="468.30" y="1573.50" font-size="11.62" text-anchor="end" fill="#2e2e2e">response to peptide hormone</text>
<text x="468.30" y="1587.94" font-size="11.62" text-anchor="end" fill="#2e2e2e">regulation of phosphatidylinositol 3-kinase/protein kinase B signal transduction</text>
<text x="468.30" y="1602.38" font-size="11.62" text-anchor="end" fill="#2e2e2e">positive regulation of dendritic spine development</text>
<text x="468.30" y="1616.82" font-size="11.62" text-anchor="end" fill="#2e2e2e">phosphatidylinositol 3-kinase/protein kinase B signal transduction</text>
<text x="468.30" y="1631.26" font-size="11.62" text-anchor="end" fill="#2e2e2e">development of primary male sexual characteristics</text>
<text x="468.30" y="1645.70" font-size="11.62" text-anchor="end" fill="#2e2e2e">connective tissue development</text>
<text x="468.30" y="1660.14" font-size="11.62" text-anchor="end" fill="#2e2e2e">chondrocyte differentiation</text>
<text x="468.30" y="1674.58" font-size="11.62" text-anchor="end" fill="#2e2e2e">cellular senescence</text>
<text x="468.30" y="1689.02" font-size="11.62" text-anchor="end" fill="#2e2e2e">ventricular septum morphogenesis</text>
<text x="468.30" y="1703.46" font-size="11.62" text-anchor="end" fill="#2e2e2e">RISC complex assembly</text>
<text x="468.30" y="1717.90" font-size="11.62" text-anchor="end" fill="#2e2e2e">response to insulin</text>
<text x="468.30" y="1732.34" font-size="11.62" text-anchor="end" fill="#2e2e2e">protein K11-linked deubiquitination</text>
<text x="468.30" y="1746.78" font-size="11.62" text-anchor="end" fill="#2e2e2e">nuclear-transcribed mRNA catabolic process, deadenylation-dependent decay</text>
<text x="468.30" y="1761.22" font-size="11.62" text-anchor="end" fill="#2e2e2e">nuclear-transcribed mRNA catabolic process</text>
<text x="468.30" y="1775.66" font-size="11.62" text-anchor="end" fill="#2e2e2e">regulation of nuclear-transcribed mRNA catabolic process, deadenylation-dependent decay</text>
<text x="505.80" y="1791.70" font-size="11.35" text-anchor="middle" fill="#2e2e2e">1.50</text>
<text x="543.90" y="1791.70" font-size="11.35" text-anchor="middle" fill="#2e2e2e">1.75</text>
<text x="582.00" y="1791.70" font-size="11.35" text-anchor="middle" fill="#2e2e2e">2.00</text>
<text x="620.10" y="1791.70" font-size="11.35" text-anchor="middle" fill="#2e2e2e">2.25</text>
<text x="658.20" y="1791.70" font-size="11.35" text-anchor="middle" fill="#2e2e2e">2.50</text>
<text x="567.50" y="1803.50" font-size="9.8" text-anchor="middle" fill="#000">-log10(p.adjust)</text>
<text x="677.70" y="1549.60" font-size="10.4" fill="#000">Count</text>
<circle cx="686.30" cy="1564.20" r="3.5" fill="#000"/>
<text x="700.30" y="1567.32" font-size="8.8" fill="#1a1a1a">5</text>
<circle cx="686.30" cy="1581.10" r="5" fill="#000"/>
<text x="700.30" y="1584.22" font-size="8.8" fill="#1a1a1a">10</text>
<circle cx="686.30" cy="1597.90" r="6.2" fill="#000"/>
<text x="700.30" y="1601.02" font-size="8.8" fill="#1a1a1a">15</text>
<text x="677.50" y="1636.00" font-size="10.66" fill="#000">p.adjust</text>
<linearGradient id="g4" x1="0" y1="0" x2="0" y2="1"><stop offset="0.00" stop-color="#0000ff"/><stop offset="0.05" stop-color="#4c00f2"/><stop offset="0.10" stop-color="#6a00e6"/><stop offset="0.15" stop-color="#7f00d8"/><stop offset="0.20" stop-color="#9100cb"/><stop offset="0.25" stop-color="#9f00be"/><stop offset="0.30" stop-color="#ac00b0"/><stop offset="0.35" stop-color="#b700a2"/><stop offset="0.40" stop-color="#c10095"/><stop offset="0.45" stop-color="#ca0087"/><stop offset="0.50" stop-color="#d2007a"/><stop offset="0.55" stop-color="#da006d"/><stop offset="0.60" stop-color="#e00060"/><stop offset="0.65" stop-color="#e60053"/><stop offset="0.70" stop-color="#ec0047"/><stop offset="0.75" stop-color="#f0003b"/><stop offset="0.80" stop-color="#f50030"/><stop offset="0.85" stop-color="#f80024"/><stop offset="0.90" stop-color="#fb0018"/><stop offset="0.95" stop-color="#fe000a"/><stop offset="1.00" stop-color="#ff0000"/></linearGradient>
<rect x="678.00" y="1642.80" width="16.80" height="83.00" fill="url(#g4)"/>
<line x1="678.00" y1="1653.50" x2="681.36" y2="1653.50" stroke="#fff" stroke-opacity="0.6" stroke-width="0.8"/>
<line x1="691.44" y1="1653.50" x2="694.80" y2="1653.50" stroke="#fff" stroke-opacity="0.6" stroke-width="0.8"/>
<text x="700.00" y="1657.38" font-size="8.4" fill="#222">0.04</text>
<line x1="678.00" y1="1673.40" x2="681.36" y2="1673.40" stroke="#fff" stroke-opacity="0.6" stroke-width="0.8"/>
<line x1="691.44" y1="1673.40" x2="694.80" y2="1673.40" stroke="#fff" stroke-opacity="0.6" stroke-width="0.8"/>
<text x="700.00" y="1677.28" font-size="8.4" fill="#222">0.03</text>
<line x1="678.00" y1="1693.00" x2="681.36" y2="1693.00" stroke="#fff" stroke-opacity="0.6" stroke-width="0.8"/>
<line x1="691.44" y1="1693.00" x2="694.80" y2="1693.00" stroke="#fff" stroke-opacity="0.6" stroke-width="0.8"/>
<text x="700.00" y="1696.88" font-size="8.4" fill="#222">0.02</text>
<line x1="678.00" y1="1712.90" x2="681.36" y2="1712.90" stroke="#fff" stroke-opacity="0.6" stroke-width="0.8"/>
<line x1="691.44" y1="1712.90" x2="694.80" y2="1712.90" stroke="#fff" stroke-opacity="0.6" stroke-width="0.8"/>
<text x="700.00" y="1716.78" font-size="8.4" fill="#222">0.01</text>
<text x="0" y="0" font-size="33.0" fill="#000" transform="translate(-1.60,1872.50) scale(1,1.07)">E</text>
<text x="432.80" y="1861.70" font-size="14.7" font-weight="bold" fill="#000">tissue_RA</text>
<line x1="437.40" y1="1871.30" x2="437.40" y2="2254.50" stroke="#ebebeb" stroke-width="1.6"/>
<line x1="464.38" y1="1871.30" x2="464.38" y2="2254.50" stroke="#ebebeb" stroke-width="1.6"/>
<line x1="491.36" y1="1871.30" x2="491.36" y2="2254.50" stroke="#ebebeb" stroke-width="1.6"/>
<line x1="518.34" y1="1871.30" x2="518.34" y2="2254.50" stroke="#ebebeb" stroke-width="1.6"/>
<line x1="545.32" y1="1871.30" x2="545.32" y2="2254.50" stroke="#ebebeb" stroke-width="1.6"/>
<line x1="572.30" y1="1871.30" x2="572.30" y2="2254.50" stroke="#ebebeb" stroke-width="1.6"/>
<line x1="599.28" y1="1871.30" x2="599.28" y2="2254.50" stroke="#ebebeb" stroke-width="1.6"/>
<line x1="626.26" y1="1871.30" x2="626.26" y2="2254.50" stroke="#ebebeb" stroke-width="1.6"/>
<line x1="433.30" y1="1882.60" x2="643.40" y2="1882.60" stroke="#ebebeb" stroke-width="1.6"/>
<line x1="433.30" y1="1901.61" x2="643.40" y2="1901.61" stroke="#ebebeb" stroke-width="1.6"/>
<line x1="433.30" y1="1920.62" x2="643.40" y2="1920.62" stroke="#ebebeb" stroke-width="1.6"/>
<line x1="433.30" y1="1939.63" x2="643.40" y2="1939.63" stroke="#ebebeb" stroke-width="1.6"/>
<line x1="433.30" y1="1958.64" x2="643.40" y2="1958.64" stroke="#ebebeb" stroke-width="1.6"/>
<line x1="433.30" y1="1977.65" x2="643.40" y2="1977.65" stroke="#ebebeb" stroke-width="1.6"/>
<line x1="433.30" y1="1996.66" x2="643.40" y2="1996.66" stroke="#ebebeb" stroke-width="1.6"/>
<line x1="433.30" y1="2015.67" x2="643.40" y2="2015.67" stroke="#ebebeb" stroke-width="1.6"/>
<line x1="433.30" y1="2034.68" x2="643.40" y2="2034.68" stroke="#ebebeb" stroke-width="1.6"/>
<line x1="433.30" y1="2053.69" x2="643.40" y2="2053.69" stroke="#ebebeb" stroke-width="1.6"/>
<line x1="433.30" y1="2072.70" x2="643.40" y2="2072.70" stroke="#ebebeb" stroke-width="1.6"/>
<line x1="433.30" y1="2091.71" x2="643.40" y2="2091.71" stroke="#ebebeb" stroke-width="1.6"/>
<line x1="433.30" y1="2110.72" x2="643.40" y2="2110.72" stroke="#ebebeb" stroke-width="1.6"/>
<line x1="433.30" y1="2129.73" x2="643.40" y2="2129.73" stroke="#ebebeb" stroke-width="1.6"/>
<line x1="433.30" y1="2148.74" x2="643.40" y2="2148.74" stroke="#ebebeb" stroke-width="1.6"/>
<line x1="433.30" y1="2167.75" x2="643.40" y2="2167.75" stroke="#ebebeb" stroke-width="1.6"/>
<line x1="433.30" y1="2186.76" x2="643.40" y2="2186.76" stroke="#ebebeb" stroke-width="1.6"/>
<line x1="433.30" y1="2205.77" x2="643.40" y2="2205.77" stroke="#ebebeb" stroke-width="1.6"/>
<line x1="433.30" y1="2224.78" x2="643.40" y2="2224.78" stroke="#ebebeb" stroke-width="1.6"/>
<line x1="433.30" y1="2243.79" x2="643.40" y2="2243.79" stroke="#ebebeb" stroke-width="1.6"/>
<clipPath id="c139891741803840"><rect x="433.30" y="1871.30" width="210.10" height="383.20"/></clipPath>
<g clip-path="url(#c139891741803840)">
<circle cx="633.60" cy="1882.60" r="8.2" fill="#ff0000"/>
<circle cx="633.60" cy="1901.61" r="7" fill="#ff0000"/>
<circle cx="575.90" cy="1920.62" r="6.6" fill="#f80025"/>
<circle cx="569.30" cy="1939.63" r="8.6" fill="#f6002a"/>
<circle cx="569.30" cy="1958.64" r="7.8" fill="#f6002a"/>
<circle cx="569.10" cy="1977.65" r="5.1" fill="#f6002a"/>
<circle cx="569.30" cy="1996.66" r="7.4" fill="#f6002a"/>
<circle cx="567.40" cy="2015.67" r="7.4" fill="#f6002c"/>
<circle cx="567.40" cy="2034.68" r="7.4" fill="#f6002c"/>
<circle cx="567.40" cy="2053.69" r="8" fill="#f6002c"/>
<circle cx="567.40" cy="2072.70" r="7.6" fill="#f6002c"/>
<circle cx="567.40" cy="2091.71" r="5.4" fill="#f6002c"/>
<circle cx="528.80" cy="2110.72" r="7" fill="#e60053"/>
<circle cx="471.20" cy="2129.73" r="2.3" fill="#a600b7"/>
<circle cx="468.10" cy="2148.74" r="6.2" fill="#9f00be"/>
<circle cx="462.70" cy="2167.75" r="5.8" fill="#9100cb"/>
<circle cx="462.70" cy="2186.76" r="5.8" fill="#9100cb"/>
<circle cx="462.70" cy="2205.77" r="6.2" fill="#9100cb"/>
<circle cx="455.70" cy="2224.78" r="5.1" fill="#7a00dc"/>
<circle cx="442.00" cy="2243.79" r="2" fill="#0000ff"/>
</g>
<rect x="433.30" y="1871.30" width="210.10" height="383.20" fill="none" stroke="#000" stroke-width="1.6"/>
<text x="426.50" y="1888.20" font-size="14.8" text-anchor="end" fill="#2e2e2e">response to peptide hormone</text>
<text x="426.50" y="1907.21" font-size="14.8" text-anchor="end" fill="#2e2e2e">muscle cell proliferation</text>
<text x="426.50" y="1926.22" font-size="14.8" text-anchor="end" fill="#2e2e2e">cellular response to steroid hormone stimulus</text>
<text x="426.50" y="1945.23" font-size="14.8" text-anchor="end" fill="#2e2e2e">regulation of translation</text>
<text x="426.50" y="1964.24" font-size="14.8" text-anchor="end" fill="#2e2e2e">regulation of actin filament-based process</text>
<text x="426.50" y="1983.25" font-size="14.8" text-anchor="end" fill="#2e2e2e">positive regulation of smooth muscle cell proliferation</text>
<text x="426.50" y="2002.26" font-size="14.8" text-anchor="end" fill="#2e2e2e">peptidyl-serine phosphorylation</text>
<text x="426.50" y="2021.27" font-size="14.8" text-anchor="end" fill="#2e2e2e">response to insulin</text>
<text x="426.50" y="2040.28" font-size="14.8" text-anchor="end" fill="#2e2e2e">peptidyl-serine modification</text>
<text x="426.50" y="2059.29" font-size="14.8" text-anchor="end" fill="#2e2e2e">nucleocytoplasmic transport</text>
<text x="426.50" y="2078.30" font-size="14.8" text-anchor="end" fill="#2e2e2e">nuclear transport</text>
<text x="426.50" y="2097.31" font-size="14.8" text-anchor="end" fill="#2e2e2e">mRNA transport</text>
<text x="426.50" y="2116.32" font-size="14.8" text-anchor="end" fill="#2e2e2e">cellular response to peptide hormone stimulus</text>
<text x="426.50" y="2135.33" font-size="14.8" text-anchor="end" fill="#2e2e2e">positive regulation of cardiac muscle tissue growth</text>
<text x="426.50" y="2154.34" font-size="14.8" text-anchor="end" fill="#2e2e2e">regulation of smooth muscle cell proliferation</text>
<text x="426.50" y="2173.35" font-size="14.8" text-anchor="end" fill="#2e2e2e">smooth muscle cell proliferation</text>
<text x="426.50" y="2192.36" font-size="14.8" text-anchor="end" fill="#2e2e2e">myeloid cell homeostasis</text>
<text x="426.50" y="2211.37" font-size="14.8" text-anchor="end" fill="#2e2e2e">cellular response to insulin stimulus</text>
<text x="426.50" y="2230.38" font-size="14.8" text-anchor="end" fill="#2e2e2e">insulin receptor signaling pathway</text>
<text x="426.50" y="2249.39" font-size="14.8" text-anchor="end" fill="#2e2e2e">positive regulation of heart growth</text>
<text x="437.40" y="2272.20" font-size="14.9" text-anchor="middle" fill="#2e2e2e">2.0</text>
<text x="491.36" y="2272.20" font-size="14.9" text-anchor="middle" fill="#2e2e2e">2.2</text>
<text x="545.32" y="2272.20" font-size="14.9" text-anchor="middle" fill="#2e2e2e">2.4</text>
<text x="599.28" y="2272.20" font-size="14.9" text-anchor="middle" fill="#2e2e2e">2.6</text>
<text x="538.30" y="2286.50" font-size="12.5" text-anchor="middle" fill="#000">-log10(p.adjust)</text>
<text x="0" y="0" font-size="12.9" text-anchor="middle" transform="translate(72.05,2063.00) rotate(-90)">GO Term</text>
<text x="663.30" y="1956.20" font-size="13.6" fill="#000">Count</text>
<circle cx="674.50" cy="1974.70" r="5.4" fill="#000"/>
<text x="692.20" y="1979.40" font-size="10.7" fill="#1a1a1a">10</text>
<circle cx="674.50" cy="1996.00" r="7.1" fill="#000"/>
<text x="692.20" y="2000.70" font-size="10.7" fill="#1a1a1a">15</text>
<circle cx="674.50" cy="2017.40" r="8.1" fill="#000"/>
<text x="692.20" y="2022.10" font-size="10.7" fill="#1a1a1a">20</text>
<text x="663.60" y="2066.40" font-size="13.5" fill="#000">p.adjust</text>
<linearGradient id="g5" x1="0" y1="0" x2="0" y2="1"><stop offset="0.00" stop-color="#0000ff"/><stop offset="0.05" stop-color="#4c00f2"/><stop offset="0.10" stop-color="#6a00e6"/><stop offset="0.15" stop-color="#7f00d8"/><stop offset="0.20" stop-color="#9100cb"/><stop offset="0.25" stop-color="#9f00be"/><stop offset="0.30" stop-color="#ac00b0"/><stop offset="0.35" stop-color="#b700a2"/><stop offset="0.40" stop-color="#c10095"/><stop offset="0.45" stop-color="#ca0087"/><stop offset="0.50" stop-color="#d2007a"/><stop offset="0.55" stop-color="#da006d"/><stop offset="0.60" stop-color="#e00060"/><stop offset="0.65" stop-color="#e60053"/><stop offset="0.70" stop-color="#ec0047"/><stop offset="0.75" stop-color="#f0003b"/><stop offset="0.80" stop-color="#f50030"/><stop offset="0.85" stop-color="#f80024"/><stop offset="0.90" stop-color="#fb0018"/><stop offset="0.95" stop-color="#fe000a"/><stop offset="1.00" stop-color="#ff0000"/></linearGradient>
<rect x="664.00" y="2074.50" width="21.00" height="106.50" fill="url(#g5)"/>
<line x1="664.00" y1="2096.60" x2="668.20" y2="2096.60" stroke="#fff" stroke-opacity="0.6" stroke-width="0.8"/>
<line x1="680.80" y1="2096.60" x2="685.00" y2="2096.60" stroke="#fff" stroke-opacity="0.6" stroke-width="0.8"/>
<text x="692.20" y="2100.73" font-size="10.8" fill="#222">0.008</text>
<line x1="664.00" y1="2124.30" x2="668.20" y2="2124.30" stroke="#fff" stroke-opacity="0.6" stroke-width="0.8"/>
<line x1="680.80" y1="2124.30" x2="685.00" y2="2124.30" stroke="#fff" stroke-opacity="0.6" stroke-width="0.8"/>
<text x="692.20" y="2128.43" font-size="10.8" fill="#222">0.006</text>
<line x1="664.00" y1="2151.50" x2="668.20" y2="2151.50" stroke="#fff" stroke-opacity="0.6" stroke-width="0.8"/>
<line x1="680.80" y1="2151.50" x2="685.00" y2="2151.50" stroke="#fff" stroke-opacity="0.6" stroke-width="0.8"/>
<text x="692.20" y="2155.63" font-size="10.8" fill="#222">0.004</text>
<line x1="664.00" y1="2179.40" x2="668.20" y2="2179.40" stroke="#fff" stroke-opacity="0.6" stroke-width="0.8"/>
<line x1="680.80" y1="2179.40" x2="685.00" y2="2179.40" stroke="#fff" stroke-opacity="0.6" stroke-width="0.8"/>
<text x="692.20" y="2183.53" font-size="10.8" fill="#222">0.002</text>
<text x="0" y="0" font-size="33.5" fill="#000" transform="translate(-0.70,2366.60) scale(1,1.08)">F</text>
<text x="376.80" y="2361.60" font-size="14.6" font-weight="bold" fill="#000">tissue_P</text>
<line x1="400.30" y1="2372.00" x2="400.30" y2="2747.20" stroke="#ebebeb" stroke-width="1.6"/>
<line x1="431.80" y1="2372.00" x2="431.80" y2="2747.20" stroke="#ebebeb" stroke-width="1.6"/>
<line x1="463.30" y1="2372.00" x2="463.30" y2="2747.20" stroke="#ebebeb" stroke-width="1.6"/>
<line x1="494.80" y1="2372.00" x2="494.80" y2="2747.20" stroke="#ebebeb" stroke-width="1.6"/>
<line x1="526.30" y1="2372.00" x2="526.30" y2="2747.20" stroke="#ebebeb" stroke-width="1.6"/>
<line x1="557.80" y1="2372.00" x2="557.80" y2="2747.20" stroke="#ebebeb" stroke-width="1.6"/>
<line x1="589.30" y1="2372.00" x2="589.30" y2="2747.20" stroke="#ebebeb" stroke-width="1.6"/>
<line x1="620.80" y1="2372.00" x2="620.80" y2="2747.20" stroke="#ebebeb" stroke-width="1.6"/>
<line x1="378.30" y1="2382.70" x2="641.50" y2="2382.70" stroke="#ebebeb" stroke-width="1.6"/>
<line x1="378.30" y1="2401.31" x2="641.50" y2="2401.31" stroke="#ebebeb" stroke-width="1.6"/>
<line x1="378.30" y1="2419.92" x2="641.50" y2="2419.92" stroke="#ebebeb" stroke-width="1.6"/>
<line x1="378.30" y1="2438.53" x2="641.50" y2="2438.53" stroke="#ebebeb" stroke-width="1.6"/>
<line x1="378.30" y1="2457.14" x2="641.50" y2="2457.14" stroke="#ebebeb" stroke-width="1.6"/>
<line x1="378.30" y1="2475.75" x2="641.50" y2="2475.75" stroke="#ebebeb" stroke-width="1.6"/>
<line x1="378.30" y1="2494.36" x2="641.50" y2="2494.36" stroke="#ebebeb" stroke-width="1.6"/>
<line x1="378.30" y1="2512.97" x2="641.50" y2="2512.97" stroke="#ebebeb" stroke-width="1.6"/>
<line x1="378.30" y1="2531.58" x2="641.50" y2="2531.58" stroke="#ebebeb" stroke-width="1.6"/>
<line x1="378.30" y1="2550.19" x2="641.50" y2="2550.19" stroke="#ebebeb" stroke-width="1.6"/>
<line x1="378.30" y1="2568.80" x2="641.50" y2="2568.80" stroke="#ebebeb" stroke-width="1.6"/>
<line x1="378.30" y1="2587.41" x2="641.50" y2="2587.41" stroke="#ebebeb" stroke-width="1.6"/>
<line x1="378.30" y1="2606.02" x2="641.50" y2="2606.02" stroke="#ebebeb" stroke-width="1.6"/>
<line x1="378.30" y1="2624.63" x2="641.50" y2="2624.63" stroke="#ebebeb" stroke-width="1.6"/>
<line x1="378.30" y1="2643.24" x2="641.50" y2="2643.24" stroke="#ebebeb" stroke-width="1.6"/>
<line x1="378.30" y1="2661.85" x2="641.50" y2="2661.85" stroke="#ebebeb" stroke-width="1.6"/>
<line x1="378.30" y1="2680.46" x2="641.50" y2="2680.46" stroke="#ebebeb" stroke-width="1.6"/>
<line x1="378.30" y1="2699.07" x2="641.50" y2="2699.07" stroke="#ebebeb" stroke-width="1.6"/>
<line x1="378.30" y1="2717.68" x2="641.50" y2="2717.68" stroke="#ebebeb" stroke-width="1.6"/>
<line x1="378.30" y1="2736.29" x2="641.50" y2="2736.29" stroke="#ebebeb" stroke-width="1.6"/>
<clipPath id="c139891741803520"><rect x="378.30" y="2372.00" width="263.20" height="375.20"/></clipPath>
<g clip-path="url(#c139891741803520)">
<circle cx="630.80" cy="2382.70" r="8.5" fill="#ff0000"/>
<circle cx="630.80" cy="2401.31" r="8.5" fill="#ff0000"/>
<circle cx="630.80" cy="2419.92" r="7.2" fill="#ff0000"/>
<circle cx="553.10" cy="2438.53" r="6.7" fill="#f80026"/>
<circle cx="528.40" cy="2457.14" r="8.5" fill="#f20037"/>
<circle cx="528.40" cy="2475.75" r="7.6" fill="#f20037"/>
<circle cx="528.40" cy="2494.36" r="5.4" fill="#f20037"/>
<circle cx="528.40" cy="2512.97" r="7.6" fill="#f20037"/>
<circle cx="514.90" cy="2531.58" r="7.6" fill="#ee0041"/>
<circle cx="514.90" cy="2550.19" r="7.6" fill="#ee0041"/>
<circle cx="514.90" cy="2568.80" r="7.6" fill="#ee0041"/>
<circle cx="514.90" cy="2587.41" r="7.6" fill="#ee0041"/>
<circle cx="514.90" cy="2606.02" r="5.4" fill="#ee0041"/>
<circle cx="468.20" cy="2624.63" r="7.2" fill="#d70072"/>
<circle cx="409.40" cy="2643.24" r="2.2" fill="#8500d4"/>
<circle cx="399.50" cy="2661.85" r="5.8" fill="#6400e9"/>
<circle cx="392.30" cy="2680.46" r="5.4" fill="#3900f8"/>
<circle cx="392.30" cy="2699.07" r="5.4" fill="#3900f8"/>
<circle cx="392.30" cy="2717.68" r="5.4" fill="#3900f8"/>
<circle cx="388.70" cy="2736.29" r="4.9" fill="#0000ff"/>
</g>
<rect x="378.30" y="2372.00" width="263.20" height="375.20" fill="none" stroke="#000" stroke-width="1.6"/>
<text x="370.40" y="2388.35" font-size="15.05" text-anchor="end" fill="#2e2e2e">response to peptide hormone</text>
<text x="370.40" y="2406.96" font-size="15.05" text-anchor="end" fill="#2e2e2e">regulation of actin filament-based process</text>
<text x="370.40" y="2425.57" font-size="15.05" text-anchor="end" fill="#2e2e2e">muscle cell proliferation</text>
<text x="370.40" y="2444.18" font-size="15.05" text-anchor="end" fill="#2e2e2e">cellular response to steroid hormone stimulus</text>
<text x="370.40" y="2462.79" font-size="15.05" text-anchor="end" fill="#2e2e2e">regulation of translation</text>
<text x="370.40" y="2481.40" font-size="15.05" text-anchor="end" fill="#2e2e2e">regulation of actin cytoskeleton organization</text>
<text x="370.40" y="2500.01" font-size="15.05" text-anchor="end" fill="#2e2e2e">positive regulation of smooth muscle cell proliferation</text>
<text x="370.40" y="2518.62" font-size="15.05" text-anchor="end" fill="#2e2e2e">peptidyl-serine phosphorylation</text>
<text x="370.40" y="2537.23" font-size="15.05" text-anchor="end" fill="#2e2e2e">response to insulin</text>
<text x="370.40" y="2555.84" font-size="15.05" text-anchor="end" fill="#2e2e2e">peptidyl-serine modification</text>
<text x="370.40" y="2574.45" font-size="15.05" text-anchor="end" fill="#2e2e2e">nucleocytoplasmic transport</text>
<text x="370.40" y="2593.06" font-size="15.05" text-anchor="end" fill="#2e2e2e">nuclear transport</text>
<text x="370.40" y="2611.67" font-size="15.05" text-anchor="end" fill="#2e2e2e">mRNA transport</text>
<text x="370.40" y="2630.28" font-size="15.05" text-anchor="end" fill="#2e2e2e">cellular response to peptide hormone stimulus</text>
<text x="370.40" y="2648.89" font-size="15.05" text-anchor="end" fill="#2e2e2e">positive regulation of cardiac muscle tissue growth</text>
<text x="370.40" y="2667.50" font-size="15.05" text-anchor="end" fill="#2e2e2e">regulation of smooth muscle cell proliferation</text>
<text x="370.40" y="2686.11" font-size="15.05" text-anchor="end" fill="#2e2e2e">smooth muscle cell proliferation</text>
<text x="370.40" y="2704.72" font-size="15.05" text-anchor="end" fill="#2e2e2e">myeloid cell homeostasis</text>
<text x="370.40" y="2723.33" font-size="15.05" text-anchor="end" fill="#2e2e2e">cellular response to insulin stimulus</text>
<text x="370.40" y="2741.94" font-size="15.05" text-anchor="end" fill="#2e2e2e">insulin receptor signaling pathway</text>
<text x="431.80" y="2764.80" font-size="15.0" text-anchor="middle" fill="#2e2e2e">2.2</text>
<text x="494.80" y="2764.80" font-size="15.0" text-anchor="middle" fill="#2e2e2e">2.4</text>
<text x="557.80" y="2764.80" font-size="15.0" text-anchor="middle" fill="#2e2e2e">2.6</text>
<text x="620.80" y="2764.80" font-size="15.0" text-anchor="middle" fill="#2e2e2e">2.8</text>
<text x="509.90" y="2781.00" font-size="12.5" text-anchor="middle" fill="#000">-log10(p.adjust)</text>
<text x="0" y="0" font-size="12.9" text-anchor="middle" transform="translate(10.80,2559.50) rotate(-90)">GO Term</text>
<text x="663.30" y="2606.40" font-size="13.6" fill="#000">Count</text>
<circle cx="673.90" cy="2625.00" r="5.3" fill="#000"/>
<text x="692.20" y="2629.70" font-size="10.7" fill="#1a1a1a">10</text>
<circle cx="673.90" cy="2646.80" r="7.1" fill="#000"/>
<text x="692.20" y="2651.50" font-size="10.7" fill="#1a1a1a">15</text>
<circle cx="673.90" cy="2668.40" r="8.2" fill="#000"/>
<text x="692.20" y="2673.10" font-size="10.7" fill="#1a1a1a">20</text>
<text x="663.60" y="2450.80" font-size="13.5" fill="#000">p.adjust</text>
<linearGradient id="g6" x1="0" y1="0" x2="0" y2="1"><stop offset="0.00" stop-color="#0000ff"/><stop offset="0.05" stop-color="#4c00f2"/><stop offset="0.10" stop-color="#6a00e6"/><stop offset="0.15" stop-color="#7f00d8"/><stop offset="0.20" stop-color="#9100cb"/><stop offset="0.25" stop-color="#9f00be"/><stop offset="0.30" stop-color="#ac00b0"/><stop offset="0.35" stop-color="#b700a2"/><stop offset="0.40" stop-color="#c10095"/><stop offset="0.45" stop-color="#ca0087"/><stop offset="0.50" stop-color="#d2007a"/><stop offset="0.55" stop-color="#da006d"/><stop offset="0.60" stop-color="#e00060"/><stop offset="0.65" stop-color="#e60053"/><stop offset="0.70" stop-color="#ec0047"/><stop offset="0.75" stop-color="#f0003b"/><stop offset="0.80" stop-color="#f50030"/><stop offset="0.85" stop-color="#f80024"/><stop offset="0.90" stop-color="#fb0018"/><stop offset="0.95" stop-color="#fe000a"/><stop offset="1.00" stop-color="#ff0000"/></linearGradient>
<rect x="663.50" y="2459.20" width="21.50" height="108.00" fill="url(#g6)"/>
<line x1="663.50" y1="2468.60" x2="667.80" y2="2468.60" stroke="#fff" stroke-opacity="0.6" stroke-width="0.8"/>
<line x1="680.70" y1="2468.60" x2="685.00" y2="2468.60" stroke="#fff" stroke-opacity="0.6" stroke-width="0.8"/>
<text x="692.20" y="2472.93" font-size="10.8" fill="#222">0.008</text>
<line x1="663.50" y1="2498.70" x2="667.80" y2="2498.70" stroke="#fff" stroke-opacity="0.6" stroke-width="0.8"/>
<line x1="680.70" y1="2498.70" x2="685.00" y2="2498.70" stroke="#fff" stroke-opacity="0.6" stroke-width="0.8"/>
<text x="692.20" y="2503.03" font-size="10.8" fill="#222">0.006</text>
<line x1="663.50" y1="2528.90" x2="667.80" y2="2528.90" stroke="#fff" stroke-opacity="0.6" stroke-width="0.8"/>
<line x1="680.70" y1="2528.90" x2="685.00" y2="2528.90" stroke="#fff" stroke-opacity="0.6" stroke-width="0.8"/>
<text x="692.20" y="2533.23" font-size="10.8" fill="#222">0.004</text>
<line x1="663.50" y1="2559.10" x2="667.80" y2="2559.10" stroke="#fff" stroke-opacity="0.6" stroke-width="0.8"/>
<line x1="680.70" y1="2559.10" x2="685.00" y2="2559.10" stroke="#fff" stroke-opacity="0.6" stroke-width="0.8"/>
<text x="692.20" y="2563.43" font-size="10.8" fill="#222">0.002</text>
</g>
</svg></div></body></html>
